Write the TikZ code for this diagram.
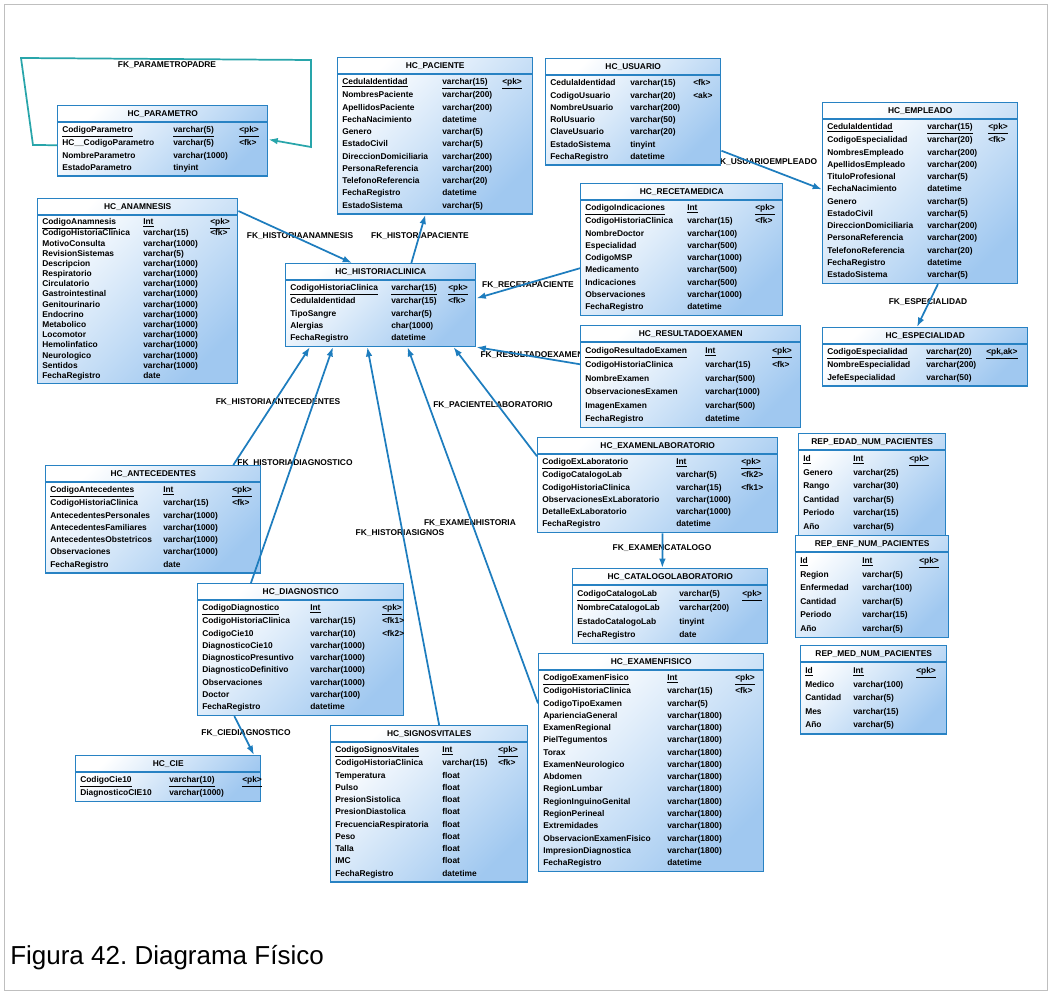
\documentclass[tikz,border=0pt]{standalone}
\usepackage{fontspec}
\setmainfont{Liberation Sans}
\usetikzlibrary{shapes.multipart,calc,arrows.meta}
\setlength{\parindent}{0pt}
\frenchspacing
\definecolor{borde}{RGB}{40,130,195}
\definecolor{linea}{RGB}{30,125,190}
\definecolor{relleno}{RGB}{160,200,240}
\definecolor{verdeazul}{RGB}{40,165,170}
\begin{document}
\begin{tikzpicture}[x=0.75pt,y=-0.75pt,>={Latex[length=7pt,width=5pt]}]
	\tikzstyle{tabla} = [rectangle split, rectangle split parts=2, draw=borde, line width=1.1pt, top color=white, bottom color=relleno, shading angle=45, anchor=north west, inner xsep=3.4pt, inner ysep=1pt, align=center, font=\fontsize{6.3}{9.2}\selectfont\bfseries]
	\tikzstyle{rel} = [draw=linea, line width=1.3pt]
	\tikzstyle{etiq} = [inner sep=0pt, font=\fontsize{6.3}{7}\selectfont\bfseries]
	\useasboundingbox (0,0) rectangle (1051,994);
	\draw[gray!50] (4,4) rectangle (1047,990);

	% etiquetas de las relaciones
	\node[etiq] (lpadre) at (167,65) {FK\_PARAMETROPADRE};
	\node[etiq] (lusuemp) at (766,162) {FK\_USUARIOEMPLEADO};
	\node[etiq] (lespec) at (928,302) {FK\_ESPECIALIDAD};
	\node[etiq] (lanam) at (300,236) {FK\_HISTORIAANAMNESIS};
	\node[etiq] (lpac) at (420,236) {FK\_HISTORIAPACIENTE};
	\node[etiq] (lreceta) at (528,285) {FK\_RECETAPACIENTE};
	\node[etiq] (lresul) at (532,355) {FK\_RESULTADOEXAMEN};
	\node[etiq] (lante) at (278,402) {FK\_HISTORIAANTECEDENTES};
	\node[etiq] (llab) at (493,405) {FK\_PACIENTELABORATORIO};
	\node[etiq] (ldiag) at (295,463) {FK\_HISTORIADIAGNOSTICO};
	\node[etiq] (lexfis) at (470,523) {FK\_EXAMENHISTORIA};
	\node[etiq] (lsignos) at (400,533) {FK\_HISTORIASIGNOS};
	\node[etiq] (lcat) at (662,548) {FK\_EXAMENCATALOGO};
	\node[etiq] (lcie) at (246,733) {FK\_CIEDIAGNOSTICO};

	% tablas
	\node[tabla, text width=150.7pt] (par) at (57,105) {\strut HC\_PARAMETRO\nodepart{two}\begin{tabular}{@{}p{83.25pt}@{}p{49.5pt}@{}p{17.95pt}@{}}
		\underline{CodigoParametro} & \underline{varchar(5)} & \underline{<pk>}\\
		HC\_\_CodigoParametro & varchar(5) & <fk>\\
		NombreParametro & varchar(1000) & \\
		EstadoParametro & tinyint &
	\end{tabular}};
	\node[tabla, text width=139.45pt] (pac) at (337,57) {\strut HC\_PACIENTE\nodepart{two}\begin{tabular}{@{}p{75pt}@{}p{45pt}@{}p{19.45pt}@{}}
		\underline{CedulaIdentidad} & \underline{varchar(15)} & \underline{<pk>}\\
		NombresPaciente & varchar(200) & \\
		ApellidosPaciente & varchar(200) & \\
		FechaNacimiento & datetime & \\
		Genero & varchar(5) & \\
		EstadoCivil & varchar(5) & \\
		DireccionDomiciliaria & varchar(200) & \\
		PersonaReferencia & varchar(200) & \\
		TelefonoReferencia & varchar(20) & \\
		FechaRegistro & datetime & \\
		EstadoSistema & varchar(5) &
	\end{tabular}};
	\node[tabla, text width=124.45pt] (usu) at (545,58) {\strut HC\_USUARIO\nodepart{two}\begin{tabular}{@{}p{60pt}@{}p{47.25pt}@{}p{17.2pt}@{}}
		CedulaIdentidad & varchar(15) & <fk>\\
		CodigoUsuario & varchar(20) & <ak>\\
		NombreUsuario & varchar(200) & \\
		RolUsuario & varchar(50) & \\
		ClaveUsuario & varchar(20) & \\
		EstadoSistema & tinyint & \\
		FechaRegistro & datetime &
	\end{tabular}};
	\node[tabla, text width=139.45pt] (emp) at (822,102) {\strut HC\_EMPLEADO\nodepart{two}\begin{tabular}{@{}p{75pt}@{}p{45.75pt}@{}p{18.7pt}@{}}
		\underline{CedulaIdentidad} & \underline{varchar(15)} & \underline{<pk>}\\
		CodigoEspecialidad & varchar(20) & <fk>\\
		NombresEmpleado & varchar(200) & \\
		ApellidosEmpleado & varchar(200) & \\
		TituloProfesional & varchar(5) & \\
		FechaNacimiento & datetime & \\
		Genero & varchar(5) & \\
		EstadoCivil & varchar(5) & \\
		DireccionDomiciliaria & varchar(200) & \\
		PersonaReferencia & varchar(200) & \\
		TelefonoReferencia & varchar(20) & \\
		FechaRegistro & datetime & \\
		EstadoSistema & varchar(5) &
	\end{tabular}};
	\node[tabla, text width=146.95pt] (esp) at (822,327) {\strut HC\_ESPECIALIDAD\nodepart{two}\begin{tabular}{@{}p{74.25pt}@{}p{45pt}@{}p{27.7pt}@{}}
		\underline{CodigoEspecialidad} & \underline{varchar(20)} & \underline{<pk,ak>}\\
		NombreEspecialidad & varchar(200) & \\
		JefeEspecialidad & varchar(50) &
	\end{tabular}};
	\node[tabla, text width=103.45pt] (repedad) at (798,433) {\strut REP\_EDAD\_NUM\_PACIENTES\nodepart{two}\def\arraystretch{1.1}\begin{tabular}{@{}p{37.5pt}@{}p{42pt}@{}p{23.95pt}@{}}
		\underline{Id} & \underline{Int} & \underline{<pk>}\\
		Genero & varchar(25) & \\
		Rango & varchar(30) & \\
		Cantidad & varchar(5) & \\
		Periodo & varchar(15) & \\
		Año & varchar(5) &
	\end{tabular}};
	\node[tabla, text width=107.95pt] (repenf) at (795,535) {\strut REP\_ENF\_NUM\_PACIENTES\nodepart{two}\def\arraystretch{1.1}\begin{tabular}{@{}p{46.5pt}@{}p{42.75pt}@{}p{18.7pt}@{}}
		\underline{Id} & \underline{Int} & \underline{<pk>}\\
		Region & varchar(5) & \\
		Enfermedad & varchar(100) & \\
		Cantidad & varchar(5) & \\
		Periodo & varchar(15) & \\
		Año & varchar(5) &
	\end{tabular}};
	\node[tabla, text width=102.7pt] (repmed) at (800,645) {\strut REP\_MED\_NUM\_PACIENTES\nodepart{two}\def\arraystretch{1.1}\begin{tabular}{@{}p{36pt}@{}p{47.25pt}@{}p{19.45pt}@{}}
		\underline{Id} & \underline{Int} & \underline{<pk>}\\
		Medico & varchar(100) & \\
		Cantidad & varchar(5) & \\
		Mes & varchar(15) & \\
		Año & varchar(5) &
	\end{tabular}};
	\node[tabla, text width=143.2pt] (anam) at (37,198) {\strut HC\_ANAMNESIS\nodepart{two}\def\arraystretch{0.83}\begin{tabular}{@{}p{75.75pt}@{}p{50.25pt}@{}p{17.2pt}@{}}
		\underline{CodigoAnamnesis} & \underline{Int} & \underline{<pk>}\\
		CodigoHistoriaClinica & varchar(15) & <fk>\\
		MotivoConsulta & varchar(1000) & \\
		RevisionSistemas & varchar(5) & \\
		Descripcion & varchar(1000) & \\
		Respiratorio & varchar(1000) & \\
		Circulatorio & varchar(1000) & \\
		Gastrointestinal & varchar(1000) & \\
		Genitourinario & varchar(1000) & \\
		Endocrino & varchar(1000) & \\
		Metabolico & varchar(1000) & \\
		Locomotor & varchar(1000) & \\
		Hemolinfatico & varchar(1000) & \\
		Neurologico & varchar(1000) & \\
		Sentidos & varchar(1000) & \\
		FechaRegistro & date &
	\end{tabular}};
	\node[tabla, text width=135.7pt] (his) at (285,263) {\strut HC\_HISTORIACLINICA\nodepart{two}\begin{tabular}{@{}p{75.75pt}@{}p{42.75pt}@{}p{17.2pt}@{}}
		\underline{CodigoHistoriaClinica} & \underline{varchar(15)} & \underline{<pk>}\\
		CedulaIdentidad & varchar(15) & <fk>\\
		TipoSangre & varchar(5) & \\
		Alergias & char(1000) & \\
		FechaRegistro & datetime &
	\end{tabular}};
	\node[tabla, text width=144.7pt] (rec) at (580,183) {\strut HC\_RECETAMEDICA\nodepart{two}\begin{tabular}{@{}p{76.5pt}@{}p{51pt}@{}p{17.2pt}@{}}
		\underline{CodigoIndicaciones} & \underline{Int} & \underline{<pk>}\\
		CodigoHistoriaClinica & varchar(15) & <fk>\\
		NombreDoctor & varchar(100) & \\
		Especialidad & varchar(500) & \\
		CodigoMSP & varchar(1000) & \\
		Medicamento & varchar(500) & \\
		Indicaciones & varchar(500) & \\
		Observaciones & varchar(1000) & \\
		FechaRegistro & datetime &
	\end{tabular}};
	\node[tabla, text width=158.2pt] (res) at (580,325) {\strut HC\_RESULTADOEXAMEN\nodepart{two}\def\arraystretch{1.1}\begin{tabular}{@{}p{90pt}@{}p{50.25pt}@{}p{17.95pt}@{}}
		\underline{CodigoResultadoExamen} & \underline{Int} & \underline{<pk>}\\
		CodigoHistoriaClinica & varchar(15) & <fk>\\
		NombreExamen & varchar(500) & \\
		ObservacionesExamen & varchar(1000) & \\
		ImagenExamen & varchar(500) & \\
		FechaRegistro & datetime &
	\end{tabular}};
	\node[tabla, text width=154.45pt] (ante) at (45,465) {\strut HC\_ANTECEDENTES\nodepart{two}\begin{tabular}{@{}p{84.75pt}@{}p{51.75pt}@{}p{17.95pt}@{}}
		\underline{CodigoAntecedentes} & \underline{Int} & \underline{<pk>}\\
		CodigoHistoriaClinica & varchar(15) & <fk>\\
		AntecedentesPersonales & varchar(1000) & \\
		AntecedentesFamiliares & varchar(1000) & \\
		AntecedentesObstetricos & varchar(1000) & \\
		Observaciones & varchar(1000) & \\
		FechaRegistro & date &
	\end{tabular}};
	\node[tabla, text width=173.2pt] (exlab) at (537,437) {\strut HC\_EXAMENLABORATORIO\nodepart{two}\begin{tabular}{@{}p{100.5pt}@{}p{48.75pt}@{}p{23.95pt}@{}}
		\underline{CodigoExLaboratorio} & \underline{Int} & \underline{<pk>}\\
		CodigoCatalogoLab & varchar(5) & <fk2>\\
		CodigoHistoriaClinica & varchar(15) & <fk1>\\
		ObservacionesExLaboratorio & varchar(1000) & \\
		DetalleExLaboratorio & varchar(1000) & \\
		FechaRegistro & datetime &
	\end{tabular}};
	\node[tabla, text width=139.45pt] (cat) at (572,568) {\strut HC\_CATALOGOLABORATORIO\nodepart{two}\def\arraystretch{1.1}\begin{tabular}{@{}p{76.5pt}@{}p{47.25pt}@{}p{15.7pt}@{}}
		\underline{CodigoCatalogoLab} & \underline{varchar(5)} & \underline{<pk>}\\
		NombreCatalogoLab & varchar(200) & \\
		EstadoCatalogoLab & tinyint & \\
		FechaRegistro & date &
	\end{tabular}};
	\node[tabla, text width=147.7pt] (diag) at (197,583) {\strut HC\_DIAGNOSTICO\nodepart{two}\begin{tabular}{@{}p{81pt}@{}p{54pt}@{}p{12.7pt}@{}}
		\underline{CodigoDiagnostico} & \underline{Int} & \underline{<pk>}\\
		CodigoHistoriaClinica & varchar(15) & <fk1>\\
		CodigoCie10 & varchar(10) & <fk2>\\
		DiagnosticoCie10 & varchar(1000) & \\
		DiagnosticoPresuntivo & varchar(1000) & \\
		DiagnosticoDefinitivo & varchar(1000) & \\
		Observaciones & varchar(1000) & \\
		Doctor & varchar(100) & \\
		FechaRegistro & datetime &
	\end{tabular}};
	\node[tabla, text width=131.95pt] (cie) at (75,755) {\strut HC\_CIE\nodepart{two}\begin{tabular}{@{}p{66.75pt}@{}p{54.75pt}@{}p{10.45pt}@{}}
		\underline{CodigoCie10} & \underline{varchar(10)} & \underline{<pk>}\\
		DiagnosticoCIE10 & varchar(1000) &
	\end{tabular}};
	\node[tabla, text width=140.95pt] (sig) at (330,725) {\strut HC\_SIGNOSVITALES\nodepart{two}\begin{tabular}{@{}p{80.25pt}@{}p{42pt}@{}p{18.7pt}@{}}
		\underline{CodigoSignosVitales} & \underline{Int} & \underline{<pk>}\\
		CodigoHistoriaClinica & varchar(15) & <fk>\\
		Temperatura & float & \\
		Pulso & float & \\
		PresionSistolica & float & \\
		PresionDiastolica & float & \\
		FrecuenciaRespiratoria & float & \\
		Peso & float & \\
		Talla & float & \\
		IMC & float & \\
		FechaRegistro & datetime &
	\end{tabular}};
	\node[tabla, text width=161.95pt] (exfis) at (538,653) {\strut HC\_EXAMENFISICO\nodepart{two}\begin{tabular}{@{}p{93pt}@{}p{51pt}@{}p{17.95pt}@{}}
		\underline{CodigoExamenFisico} & \underline{Int} & \underline{<pk>}\\
		CodigoHistoriaClinica & varchar(15) & <fk>\\
		CodigoTipoExamen & varchar(5) & \\
		AparienciaGeneral & varchar(1800) & \\
		ExamenRegional & varchar(1800) & \\
		PielTegumentos & varchar(1800) & \\
		Torax & varchar(1800) & \\
		ExamenNeurologico & varchar(1800) & \\
		Abdomen & varchar(1800) & \\
		RegionLumbar & varchar(1800) & \\
		RegionInguinoGenital & varchar(1800) & \\
		RegionPerineal & varchar(1800) & \\
		Extremidades & varchar(1800) & \\
		ObservacionExamenFisico & varchar(1800) & \\
		ImpresionDiagnostica & varchar(1800) & \\
		FechaRegistro & datetime &
	\end{tabular}};

	% relaciones
	\coordinate (bucle1) at (33,145);
	\coordinate (bucle2) at (21,58);
	\coordinate (bucle3) at (311,60);
	\coordinate (bucle4) at (311,147);
	\draw[draw=verdeazul, line width=1.3pt, ->] ($(par.north west)!0.56!(par.south west)$) -- (bucle1) -- (bucle2) -- (bucle3) -- (bucle4) -- ($(par.north east)!0.48!(par.south east)$);
	\draw[rel, ->] ($(usu.north east)!0.86!(usu.south east)$) -- ($(emp.north west)!0.48!(emp.south west)$);
	\draw[rel, ->] ($(emp.south west)!0.59!(emp.south east)$) -- ($(esp.north west)!0.46!(esp.north east)$);
	\draw[rel, ->] ($(anam.north east)!0.07!(anam.south east)$) -- ($(his.north west)!0.35!(his.north east)$);
	\draw[rel, ->] ($(his.north west)!0.66!(his.north east)$) -- ($(pac.south west)!0.45!(pac.south east)$);
	\draw[rel, ->] ($(rec.north west)!0.64!(rec.south west)$) -- ($(his.north east)!0.42!(his.south east)$);
	\draw[rel, ->] ($(res.north west)!0.38!(res.south west)$) -- (his.south east);
	\draw[rel, ->] ($(ante.north west)!0.87!(ante.north east)$) -- ($(his.south west)!0.13!(his.south east)$);
	\draw[rel, ->] ($(diag.north west)!0.26!(diag.north east)$) -- ($(his.south west)!0.25!(his.south east)$);
	\draw[rel, ->] ($(sig.north west)!0.55!(sig.north east)$) -- ($(his.south west)!0.43!(his.south east)$);
	\draw[rel, ->] ($(exfis.north west)!0.23!(exfis.south west)$) -- ($(his.south west)!0.64!(his.south east)$);
	\draw[rel, ->] ($(exlab.north west)!0.2!(exlab.south west)$) -- ($(his.south west)!0.88!(his.south east)$);
	\draw[rel, ->] ($(exlab.south west)!0.52!(exlab.south east)$) -- ($(cat.north west)!0.46!(cat.north east)$);
	\draw[rel, ->] ($(diag.south west)!0.18!(diag.south east)$) -- ($(cie.north west)!0.96!(cie.north east)$);

	\node[anchor=west, inner sep=0pt, font=\fontsize{19.5}{22}\selectfont] (pie) at (10,958) {Figura 42. Diagrama Físico};
\end{tikzpicture}
\end{document}
